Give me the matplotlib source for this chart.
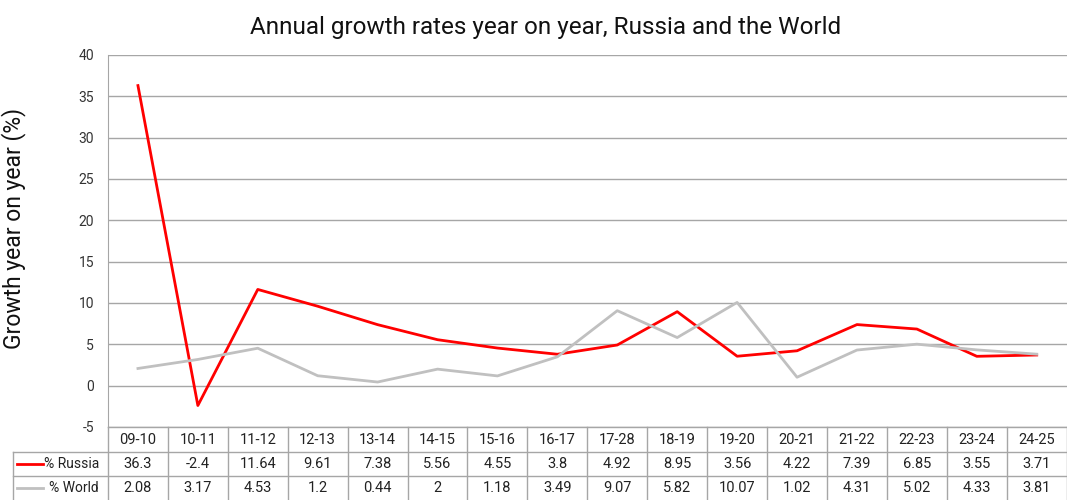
import matplotlib.pyplot as plt
import matplotlib.transforms as mtransforms
from matplotlib.lines import Line2D

plt.rcParams['font.family'] = ['Roboto', 'DejaVu Sans']
plt.rcParams['axes.unicode_minus'] = False

# data
periods = ['09-10', '10-11', '11-12', '12-13', '13-14', '14-15', '15-16', '16-17',
           '17-28', '18-19', '19-20', '20-21', '21-22', '22-23', '23-24', '24-25']
russia = [36.3, -2.4, 11.64, 9.61, 7.38, 5.56, 4.55, 3.8,
          4.92, 8.95, 3.56, 4.22, 7.39, 6.85, 3.55, 3.71]
world = [2.08, 3.17, 4.53, 1.2, 0.44, 2, 1.18, 3.49,
         9.07, 5.82, 10.07, 1.02, 4.31, 5.02, 4.33, 3.81]
series = [('% Russia', russia, '#ff0000'), ('% World', world, '#c0c0c0')]

grid_col = '#a6a6a6'
txt_col = '#222222'

fig = plt.figure(figsize=(10.67, 5), dpi=100)
ax = fig.add_axes([0.1012, 0.146, 0.8985, 0.744])

xs = list(range(len(periods)))
for name, vals, col in series:
    ax.plot(xs, vals, color=col, lw=2, zorder=3)

ax.set_xlim(-0.5, len(periods) - 0.5)
ax.set_ylim(-5, 40)
ax.set_yticks(range(-5, 41, 5))
ax.set_xticks([])
ax.yaxis.grid(True, color=grid_col, lw=1)
ax.set_axisbelow(True)
for s in ['top', 'right', 'bottom']:
    ax.spines[s].set_visible(False)
ax.spines['left'].set_color(grid_col)
ax.tick_params(axis='y', length=0, labelsize=10, colors='#333333', pad=10)
ax.set_ylabel('Growth year on year (%)', fontsize=16.5, color='#111111')
ax.yaxis.set_label_coords(-0.085, 0.535)

fig.text(0.511, 0.945, 'Annual growth rates year on year, Russia and the World',
         ha='center', va='center', fontsize=17.5, color='#111111')

# data table under the axis
tr = mtransforms.blended_transform_factory(ax.transData, fig.transFigure)
trf = fig.transFigure
y_top, y_r, y_w, y_bot = 0.146, 0.096, 0.048, 0.0
x_left = 13 / 1067

def hline(y, x0_fig=None):
    if x0_fig is None:
        l = Line2D([-0.5, len(periods) - 0.5], [y, y], transform=tr)
    else:
        l = Line2D([x0_fig, 1.0], [y, y], transform=trf)
    l.set_color(grid_col)
    l.set_linewidth(1)
    fig.lines.append(l)

hline(y_top)
hline(y_r, x_left)
hline(y_w, x_left)
for i in range(len(periods) + 1):
    fig.lines.append(Line2D([i - 0.5, i - 0.5], [y_top, y_bot], transform=tr,
                            color=grid_col, lw=1))
fig.lines.append(Line2D([x_left, x_left], [y_r, y_bot], transform=trf,
                        color=grid_col, lw=1))

for i, p in enumerate(periods):
    fig.text(i, (y_top + y_r) / 2, p, transform=tr, ha='center', va='center',
             fontsize=10.5, color=txt_col)
for (name, vals, col), (y0, y1) in zip(series, [(y_r, y_w), (y_w, y_bot)]):
    yc = (y0 + y1) / 2
    for i, v in enumerate(vals):
        fig.text(i, yc, f'{v:g}', transform=tr, ha='center', va='center',
                 fontsize=10.5, color=txt_col)
    fig.lines.append(Line2D([17 / 1067, 43 / 1067], [yc, yc], transform=trf,
                            color=col, lw=2))
    fig.text(99 / 1067, yc, name, ha='right', va='center', fontsize=10,
             color=txt_col)

fig.savefig('out.png', dpi=100)
